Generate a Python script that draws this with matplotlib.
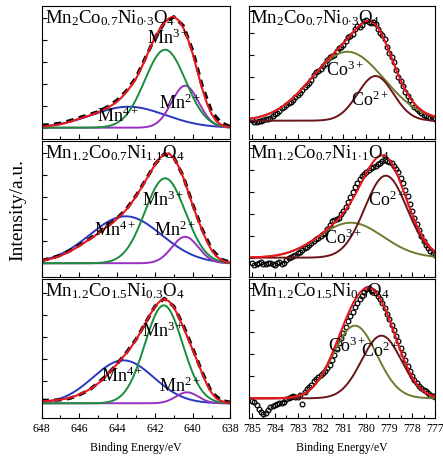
import numpy as np
import matplotlib
matplotlib.use("Agg")
import matplotlib.pyplot as plt
from matplotlib.ticker import MultipleLocator

plt.rcParams['font.family'] = ['Liberation Serif', 'DejaVu Serif']
plt.rcParams['mathtext.fontset'] = 'custom'
plt.rcParams['mathtext.rm'] = 'Liberation Serif'
plt.rcParams['mathtext.it'] = 'Liberation Serif:italic'
plt.rcParams['mathtext.bf'] = 'Liberation Serif:bold'

# ---------------- data (intensity in arbitrary units) ----------------
titles = [r'Mn$_2$Co$_{0.7}$Ni$_{0{\cdot}3}$O$_4$',
          r'Mn$_{1.2}$Co$_{0.7}$Ni$_{1.1}$O$_4$',
          r'Mn$_{1.2}$Co$_{1.5}$Ni$_{0.3}$O$_4$']
titles_co = [r'Mn$_2$Co$_{0.7}$Ni$_{0{\cdot}3}$O$_4$',
             r'Mn$_{1.2}$Co$_{0.7}$Ni$_{1{\cdot}1}$O$_4$',
             r'Mn$_{1.2}$Co$_{1.5}$Ni$_{0.3}$O$_4$']

# Mn 2p : measured (0.5 eV step) and envelope fit (0.25 eV step)
mn_e_data = np.arange(648.0, 637.99, -0.5)
mn_data = [
    [2.5, 3, 4.5, 7, 10, 13, 16, 21, 27.5, 37, 50, 70, 90, 105, 111, 102, 77, 42, 16, 5, 1],
    [2.7, 5, 8, 12.5, 18, 24, 30.5, 37.5, 45, 54.5, 67.5, 83, 99, 109.5, 106, 87, 59, 34, 14, 4, 1],
    [3, 3, 3.5, 5, 8.5, 13, 20.5, 29, 39.5, 51, 64, 80.5, 97, 105, 97, 78, 55, 31, 11, 3, 1],
]
mn_e_fit = np.arange(648.0, 637.99, -0.25)
mn_fit = [
    [1.0, 1.5, 2.0, 2.7, 3.5, 4.6, 6.0, 7.5, 9.0, 10.5, 12.0, 13.7, 15.5, 17.7, 20.0,
     22.8, 26.0, 30.5, 36.0, 42.0, 49.0, 58.5, 69.0, 80.0, 90.0, 98.5, 105.0, 109.5,
     111.0, 107.5, 100.0, 88.5, 74.0, 56.5, 39.0, 24.5, 13.5, 6.5, 3.0, 1.5, 0.5],
    [2.7, 3.5, 4.5, 5.8, 7.5, 9.5, 12, 14.5, 17.5, 20.5, 23.5, 26.5, 30, 33.5, 37,
     40.5, 44.5, 49, 54, 60, 67, 74.5, 82.5, 90.5, 98.5, 105, 109, 110, 105, 97, 86,
     72, 58, 45, 33, 22, 13, 7, 3.5, 1.5, 0.5],
    [2, 2.3, 2.7, 3.2, 3.8, 4.5, 5.5, 7, 9, 11, 13.5, 16.5, 20, 24, 29, 34, 39.5, 45,
     50.5, 56.5, 63.5, 71.5, 80, 89, 96.5, 102, 104.5, 102, 96, 87, 76.5, 65, 53.5,
     42, 30, 19, 10.5, 5, 2.5, 1, 0.5],
]
# Mn components: (centre eV, height, sigma eV)
mn3 = [(641.46, 78, 1.08), (641.46, 85, 1.07), (641.53, 98, 1.0)]
mn4 = [(643.4, 21, 1.95), (643.55, 47, 1.9), (643.67, 43, 1.6)]
mn2 = [(640.4, 42, 0.72), (640.4, 26.5, 0.7), (640.3, 11, 0.6)]

# Co 2p : measured points, 785.0 -> 777.0 eV in 0.1 eV steps
co_data = [
    [0.5,
     -1, -1.5, 0, -0.5, 0.5, 1.5, 2, 3, 5, 7,
     8, 10, 12.5, 14, 15.5, 18, 19, 21, 24, 26,
     28, 31, 34, 36, 38, 41, 46, 49, 50, 52,
     55, 57, 61, 64, 65, 66, 70, 73, 74, 76,
     80, 84, 85, 87, 92, 95, 94, 96, 100, 101,
     99, 98, 99, 97, 92, 88, 86, 82, 74, 68,
     64, 59, 51, 44, 40, 35, 29, 25, 21, 17,
     14, 12, 10, 8, 6, 5, 4, 3, 2.5, 2],
    [-5,
     -7, -6, -5, -4, -6, -6, -5, -5, -6, -7,
     -5, -4, -6, -5, -2, 0, 1, 2, 3, 5,
     6, 8, 10, 11, 13, 15, 17, 19, 20, 22,
     24, 25, 29, 33, 37, 38, 39, 40, 44, 47,
     51, 56, 61, 66, 71, 75, 79, 82, 84, 86,
     88, 90, 91, 92, 94, 95, 97, 98, 97, 96,
     95, 92, 89, 86, 80, 75, 68, 62, 54, 47,
     40, 34, 28, 22, 17, 13, 10, 7, 5, 3],
    [-3,
     -4, -7, -11, -14, -16, -15, -12, -9, -8, -7,
     -6, -5, -5, -4, -1, 0, 1, 2, 1, 1,
     3, -6, 6, 9, 11, 13, 17, 19, 21, 23,
     25, 27, 30, 33, 38, 43, 49, 55, 60, 65,
     71, 77, 82, 86, 91, 95, 99, 102, 106, 109,
     110, 108, 107, 105, 102, 99, 95, 90, 84, 79,
     73, 68, 62, 57, 50, 44, 38, 32, 27, 22,
     18, 15, 12, 10, 8, 7, 5, 3, 2, 1],
]
co_e = np.round(785.0 - 0.1 * np.arange(len(co_data[0])), 1)
co3 = [(780.83, 69, 1.6), (780.68, 35, 1.4), (780.5, 72.7, 0.95)]
co2 = [(779.6, 44.7, 0.78), (779.15, 82, 0.92), (779.34, 62.7, 0.87)]

# label positions (eV, intensity)
mn_labels = [
    {'3+': (641.31, 89.7), '2+': (640.67, 24.4), '4+': (643.95, 11)},
    {'3+': (641.56, 63.3), '2+': (640.94, 33.3), '4+': (644.11, 33.3)},
    {'3+': (641.56, 71.6), '2+': (640.67, 16.6), '4+': (643.76, 26.6)},
]
co_labels = [
    {'3+': (780.94, 50.7), '2+': (779.85, 20.7)},
    {'3+': (781.01, 19.4), '2+': (779.12, 57.7)},
    {'3+': (780.85, 51.6), '2+': (779.42, 46.6)},
]

# y limits per row (below, above baseline)
mn_ylim = [(-11.3, 121.7), (-13.7, 122.3), (-14.7, 124.3)]
co_ylim = [(-18.3, 114.7), (-19.3, 116.7), (-19.7, 119.3)]


def gauss(x, c, h, s):
    return h * np.exp(-(x - c) ** 2 / (2 * s ** 2))


fig = plt.figure(figsize=(4.43, 4.57), dpi=100)
rows = [(0.6958, 0.291), (0.3939, 0.2976), (0.0853, 0.304)]

RED = '#e8161e'
GREEN = '#1b8c3c'
BLUE = '#2838c0'
PURPLE = '#9a2fc4'
OLIVE = '#6e7b2e'
MAROON = '#6b1519'

xm = np.linspace(648, 638, 400)
xc = np.linspace(785.2, 777, 400)

for i, (b, h) in enumerate(rows):
    # ---- Mn panel ----
    ax = fig.add_axes([0.0937, b, 0.4266, h])
    ax.plot(xm, gauss(xm, *mn4[i]), color=BLUE, lw=1.4)
    ax.plot(xm, gauss(xm, *mn2[i]), color=PURPLE, lw=1.4)
    ax.plot(xm, gauss(xm, *mn3[i]), color=GREEN, lw=1.4)
    ax.plot(mn_e_data, mn_data[i], color='black', lw=2.4, ls=(0, (2.2, 1.6)))
    ax.plot(mn_e_fit, mn_fit[i], color=RED, lw=1.5)
    ax.set_xlim(648, 638)
    ax.set_ylim(*mn_ylim[i])
    ax.xaxis.set_major_locator(MultipleLocator(2))
    ax.xaxis.set_minor_locator(MultipleLocator(1))
    ax.yaxis.set_major_locator(MultipleLocator(22))
    ax.tick_params(direction='in', which='major', length=3.5, width=0.8, labelsize=8.5)
    ax.tick_params(direction='in', which='minor', length=2, width=0.8)
    ax.set_yticklabels([])
    ax.text(0.018, 0.985, titles[i], transform=ax.transAxes, ha='left', va='top', fontsize=13.5)
    for k, (ex, ey) in mn_labels[i].items():
        ax.text(ex, ey, 'Mn$^{' + k + '}$', ha='center', va='center', fontsize=13)

    # ---- Co panel ----
    ax2 = fig.add_axes([0.561, b, 0.421, h])
    ax2.plot(co_e, co_data[i], ls='none', marker='o', ms=3.4, mfc='none', mec='black', mew=0.9)
    ax2.plot(xc, gauss(xc, *co3[i]), color=OLIVE, lw=1.4)
    ax2.plot(xc, gauss(xc, *co2[i]), color=MAROON, lw=1.4)
    ax2.plot(xc, gauss(xc, *co3[i]) + gauss(xc, *co2[i]), color=RED, lw=1.5)
    ax2.set_xlim(785.15, 777)
    ax2.set_ylim(*co_ylim[i])
    ax2.xaxis.set_major_locator(MultipleLocator(1))
    ax2.xaxis.set_minor_locator(MultipleLocator(0.5))
    ax2.yaxis.set_major_locator(MultipleLocator(22))
    ax2.tick_params(direction='in', which='major', length=3.5, width=0.8, labelsize=8.5)
    ax2.tick_params(direction='in', which='minor', length=2, width=0.8)
    ax2.set_yticklabels([])
    ax2.text(0.01, 0.985, titles_co[i], transform=ax2.transAxes, ha='left', va='top', fontsize=13.5)
    for k, (ex, ey) in co_labels[i].items():
        ax2.text(ex, ey, 'Co$^{' + k + '}$', ha='center', va='center', fontsize=13)

    if i < 2:
        ax.set_xticklabels([])
        ax2.set_xticklabels([])
    else:
        ax.set_xlabel('Binding Energy/eV', fontsize=8.5, labelpad=5)
        ax2.set_xlabel('Binding Energy/eV', fontsize=8.5, labelpad=5)
        ax2.set_xticks(np.arange(785, 776.9, -1))

fig.text(0.04, 0.54, 'Intensity/a.u.', rotation=90, ha='center', va='center', fontsize=14)

fig.savefig('out.png', dpi=100)
